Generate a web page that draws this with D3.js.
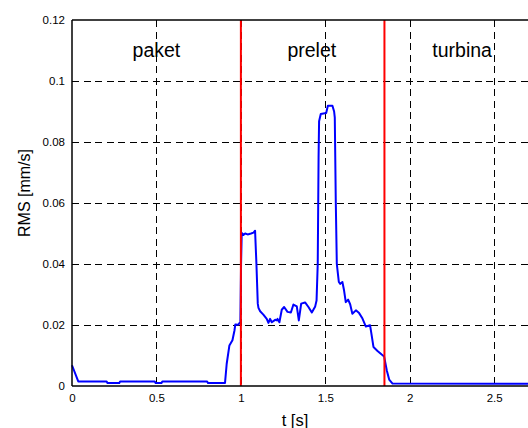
<!DOCTYPE html>
<html>
<head>
<meta charset="utf-8">
<script src="https://cdn.jsdelivr.net/npm/d3@7"></script>
<style>
  html, body { margin: 0; padding: 0; background: #fff; overflow: hidden; }
  svg { display: block; font-family: "Liberation Sans", Arial, Helvetica, sans-serif; }
</style>
</head>
<body>
<svg id="chart" width="528" height="428"></svg>
<script>
// RMS velocity over time
const tValues = [0, 0.037, 0.205, 0.21, 0.28, 0.285, 0.49, 0.495, 0.53, 0.535, 0.80, 0.805,
  0.906, 0.916, 0.932, 0.95, 0.962, 0.967, 0.985, 0.997, 1.001, 1.005, 1.015, 1.025, 1.04,
  1.06, 1.075, 1.084, 1.092, 1.100, 1.104, 1.114, 1.133, 1.153, 1.163, 1.173, 1.183, 1.203,
  1.213, 1.217, 1.228, 1.242, 1.256, 1.276, 1.296, 1.311, 1.331, 1.343, 1.357, 1.380, 1.400,
  1.420, 1.440, 1.448, 1.455, 1.460, 1.463, 1.473, 1.505, 1.515, 1.542, 1.552, 1.556, 1.562,
  1.568, 1.574, 1.580, 1.588, 1.601, 1.611, 1.621, 1.635, 1.647, 1.660, 1.681, 1.700, 1.720,
  1.740, 1.765, 1.773, 1.785, 1.809, 1.832, 1.848, 1.864, 1.878, 1.898, 2.7];
const rmsValues = [0.0068, 0.0015, 0.0015, 0.0010, 0.0010, 0.0015, 0.0015, 0.0010, 0.0010, 0.0015, 0.0015, 0.0010,
  0.0010, 0.0073, 0.0133, 0.0150, 0.0182, 0.0202, 0.0201, 0.0210, 0.0400, 0.0502, 0.0495, 0.0500, 0.0497,
  0.0500, 0.0503, 0.0509, 0.0400, 0.0270, 0.0256, 0.0245, 0.0234, 0.0220, 0.0207, 0.0220, 0.0209, 0.0217,
  0.0215, 0.0220, 0.0209, 0.0250, 0.0259, 0.0243, 0.0241, 0.0267, 0.0261, 0.0215, 0.0270, 0.0274, 0.0259,
  0.0241, 0.0261, 0.0280, 0.0400, 0.0750, 0.0868, 0.0892, 0.0895, 0.0919, 0.0919, 0.0900, 0.0880, 0.0600,
  0.0400, 0.0370, 0.0341, 0.0335, 0.0341, 0.0313, 0.0275, 0.0283, 0.0268, 0.0237, 0.0248, 0.0239, 0.0221,
  0.0195, 0.0199, 0.0171, 0.0128, 0.0115, 0.0104, 0.0097, 0.0051, 0.0021, 0.0008, 0.0007];

// Phase boundaries and phase names
const phaseBoundaries = [1, 1.85];
const phaseNames = ["paket", "prelet", "turbina"];
const phaseLabelT = [0.5, 1.42, 2.31];

// Axis ticks
const xTicks = [0, 0.5, 1, 1.5, 2, 2.5];
const yTicks = [0, 0.02, 0.04, 0.06, 0.08, 0.1, 0.12];

const svg = d3.select("#chart");
const W = 528, H = 428;
const plot = { left: 72, top: 20, right: 528, bottom: 386 };

const x = d3.scaleLinear().domain([0, 2.7]).range([plot.left, plot.right]);
const y = d3.scaleLinear().domain([0, 0.12]).range([plot.bottom, plot.top]);

const fmt = d => d === 0 ? "0" : String(+d.toFixed(2));

// Grid
const grid = svg.append("g").attr("stroke", "#000").attr("stroke-width", 1)
  .attr("stroke-dasharray", "7,4.5").attr("shape-rendering", "crispEdges");
grid.selectAll("line.v").data(xTicks.filter(d => d > 0)).join("line")
  .attr("x1", d => Math.round(x(d)) + 0.5).attr("x2", d => Math.round(x(d)) + 0.5)
  .attr("y1", plot.top).attr("y2", plot.bottom);
grid.selectAll("line.h").data(yTicks.filter(d => d > 0 && d < 0.12)).join("line")
  .attr("class", "h")
  .attr("x1", plot.left).attr("x2", plot.right)
  .attr("y1", d => Math.round(y(d)) + 0.5).attr("y2", d => Math.round(y(d)) + 0.5);

// Axes (box on left, top, bottom)
const xAxis = d3.axisBottom(x).tickValues(xTicks).tickFormat(fmt).tickSize(0).tickPadding(8);
const yAxis = d3.axisLeft(y).tickValues(yTicks).tickFormat(fmt).tickSize(0).tickPadding(7);

const gx = svg.append("g").attr("transform", `translate(0,${plot.bottom})`).call(xAxis);
const gy = svg.append("g").attr("transform", `translate(${plot.left},0)`).call(yAxis);
[gx, gy].forEach(g => {
  g.select(".domain").remove();
  g.selectAll("text").attr("font-size", 11.5).attr("fill", "#000")
    .attr("font-family", "Liberation Sans, Arial, sans-serif");
});

// RMS curve
const line = d3.line().x((d, i) => x(tValues[i])).y(d => y(d));
svg.append("path").datum(rmsValues)
  .attr("d", line)
  .attr("fill", "none").attr("stroke", "#0000ff").attr("stroke-width", 2)
  .attr("stroke-linejoin", "round");

// Phase boundary markers
svg.selectAll("line.phase").data(phaseBoundaries).join("line")
  .attr("class", "phase")
  .attr("x1", d => x(d)).attr("x2", d => x(d))
  .attr("y1", plot.top).attr("y2", plot.bottom)
  .attr("stroke", "#ff0000").attr("stroke-width", 2);

// Axis box lines
const box = svg.append("g").attr("stroke", "#000").attr("stroke-width", 1.5);
box.append("line").attr("x1", plot.left).attr("x2", plot.left).attr("y1", plot.top).attr("y2", plot.bottom);
box.append("line").attr("x1", plot.left).attr("x2", plot.right).attr("y1", plot.top).attr("y2", plot.top);
box.append("line").attr("x1", plot.left).attr("x2", plot.right).attr("y1", plot.bottom).attr("y2", plot.bottom);

// Phase names
svg.selectAll("text.phase").data(phaseNames).join("text")
  .attr("class", "phase")
  .attr("x", (d, i) => x(phaseLabelT[i])).attr("y", 57)
  .attr("text-anchor", "middle").attr("font-size", 19.5).attr("fill", "#000")
  .text(d => d);

// Axis titles
svg.append("text").attr("x", (plot.left + plot.right) / 2 - 5).attr("y", 426)
  .attr("text-anchor", "middle").attr("font-size", 16.5).text("t [s]");
svg.append("text").attr("transform", "translate(30,193) rotate(-90)")
  .attr("text-anchor", "middle").attr("font-size", 16).text("RMS [mm/s]");
</script>
</body>
</html>
